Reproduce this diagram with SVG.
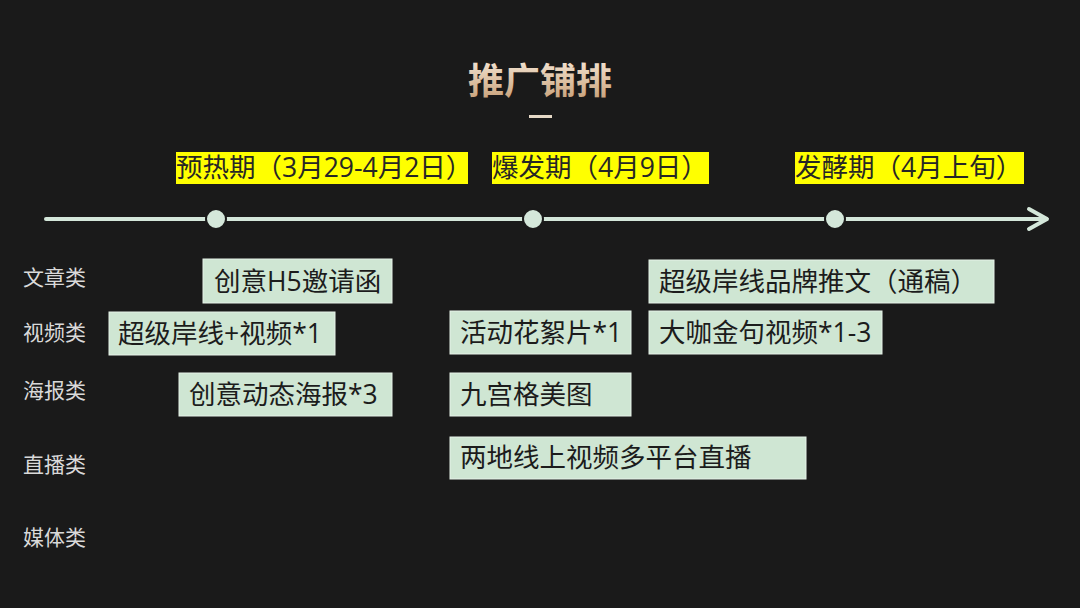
<svg xmlns="http://www.w3.org/2000/svg" width="1080" height="608" viewBox="0 0 1080 608">
<defs>
<linearGradient id="tg" x1="0" y1="0" x2="0" y2="1">
<stop offset="0" stop-color="#fbf1e4"/>
<stop offset="1" stop-color="#c49a70"/>
</linearGradient>
<style>
.cjk{font-family:"Open Sans","Noto Sans CJK SC",sans-serif;}
.cat{font-size:21px;fill:#d9d9d9;}
.box{fill:#cfe6d3;stroke:#e6f2e8;stroke-width:1;}
.bt{font-size:26.5px;fill:#1c1c1c;dominant-baseline:central;}
.yb{fill:#ffff00;}
.yt{font-size:26.5px;fill:#262626;dominant-baseline:central;}
.dot{fill:#d4e7da;stroke:#1a1a1a;stroke-width:2;}
.axis{stroke:#d4e7da;stroke-width:4;fill:none;stroke-linecap:round;stroke-linejoin:round;}
</style>
</defs>
<rect width="1080" height="608" fill="#1a1a1a"/>
<g id="title">
<text class="cjk" x="540" y="94" text-anchor="middle" font-size="36" font-weight="bold" fill="url(#tg)" style="font-family:'Noto Sans CJK SC',sans-serif">推广铺排</text>
<rect x="529" y="115" width="23" height="3" fill="#e6d9c6"/>
</g>
<g id="connectors">
<line class="axis" x1="46" y1="219" x2="1046" y2="219"/>
<polyline class="axis" points="1029,209 1047,219 1029,229"/>
</g>
<g id="dot1"><circle class="dot" cx="216" cy="219" r="10"/></g>
<g id="dot2"><circle class="dot" cx="533" cy="219" r="10"/></g>
<g id="dot3"><circle class="dot" cx="835" cy="219" r="10"/></g>
<g id="phase1"><rect class="yb" x="176" y="152" width="292" height="32"/><text class="cjk yt" x="176" y="167">预热期（3月29-4月2日）</text></g>
<g id="phase2"><rect class="yb" x="492" y="152" width="217" height="32"/><text class="cjk yt" x="492" y="167">爆发期（4月9日）</text></g>
<g id="phase3"><rect class="yb" x="795" y="152" width="229" height="32"/><text class="cjk yt" x="795" y="167">发酵期（4月上旬）</text></g>
<g id="cat-wenzhang"><text class="cjk cat" x="23" y="285">文章类</text></g>
<g id="cat-shipin"><text class="cjk cat" x="23" y="340">视频类</text></g>
<g id="cat-haibao"><text class="cjk cat" x="23" y="398">海报类</text></g>
<g id="cat-zhibo"><text class="cjk cat" x="23" y="472">直播类</text></g>
<g id="cat-meiti"><text class="cjk cat" x="23" y="545">媒体类</text></g>
<g id="n1"><rect class="box" x="203" y="259" width="189" height="44"/><text class="cjk bt" x="214" y="281">创意H5邀请函</text></g>
<g id="n2"><rect class="box" x="649" y="260" width="345" height="43"/><text class="cjk bt" x="659" y="281">超级岸线品牌推文（通稿）</text></g>
<g id="n3"><rect class="box" x="109" y="312" width="226" height="43"/><text class="cjk bt" x="118" y="333">超级岸线+视频*1</text></g>
<g id="n4"><rect class="box" x="450" y="311" width="181" height="43"/><text class="cjk bt" x="460" y="332">活动花絮片*1</text></g>
<g id="n5"><rect class="box" x="649" y="311" width="233" height="43"/><text class="cjk bt" x="659" y="332">大咖金句视频*1-3</text></g>
<g id="n6"><rect class="box" x="179" y="373" width="213" height="43"/><text class="cjk bt" x="189" y="394">创意动态海报*3</text></g>
<g id="n7"><rect class="box" x="450" y="373" width="181" height="43"/><text class="cjk bt" x="460" y="394">九宫格美图</text></g>
<g id="n8"><rect class="box" x="450" y="437" width="356" height="42"/><text class="cjk bt" x="460" y="457">两地线上视频多平台直播</text></g>
</svg>
